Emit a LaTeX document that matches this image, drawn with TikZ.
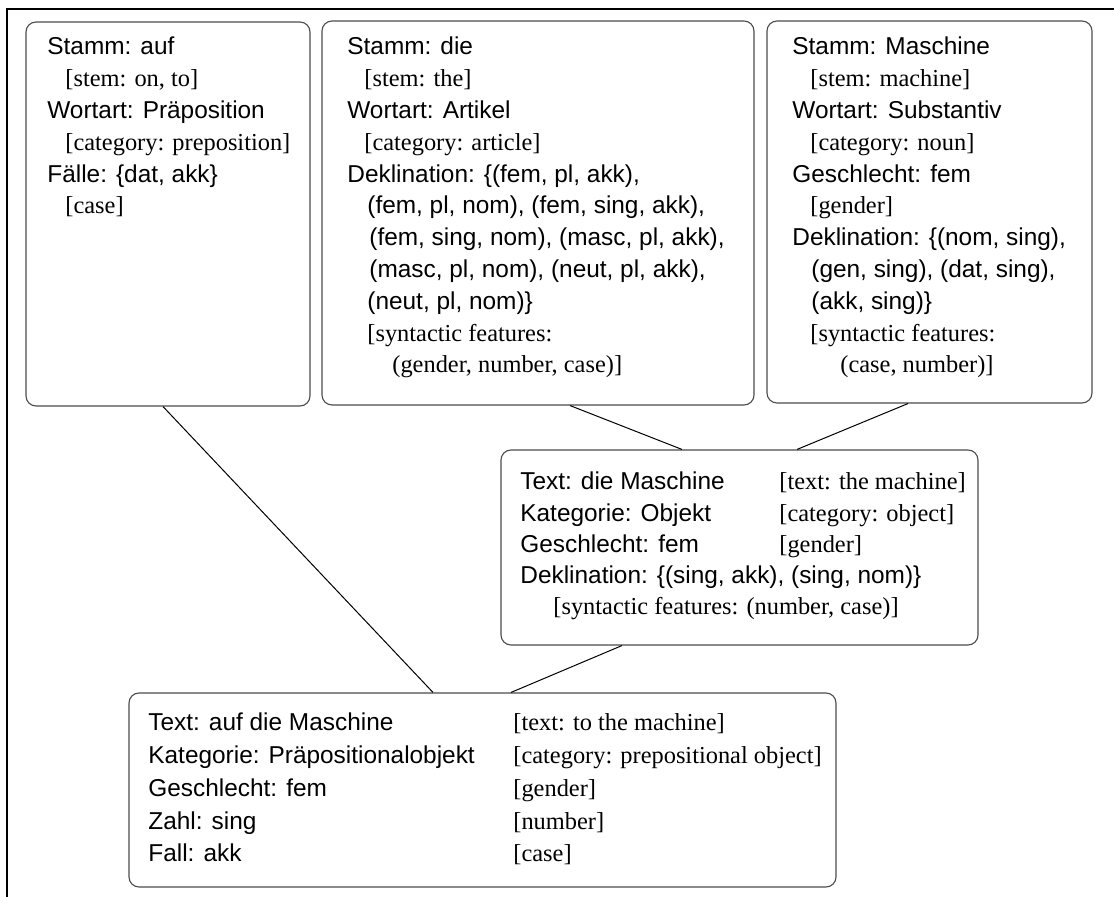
\documentclass[tikz,border=0pt]{standalone}
\usepackage{fontspec}
\setmainfont{Liberation Serif}
\setsansfont{Liberation Sans}
\usetikzlibrary{positioning}

% German entries in sans, English glosses in serif
\newcommand{\deu}[1]{{\sffamily #1}}
\newcommand{\eng}[1]{{\rmfamily #1}}

\begin{document}
\begin{tikzpicture}[x=0.5pt, y=-0.5pt,
  % frames of the feature structures
  box/.style={draw=black!70, line width=0.55pt, rounded corners=5pt, inner sep=0pt},
  % text inside a frame, placed at the baseline of its first line
  entry/.style={anchor=base west, inner sep=0pt, font=\fontsize{12.2}{#1}\selectfont},
  entry/.default=15.9,
  link/.style={draw=black, line width=0.5pt}
]
\useasboundingbox (0,0) rectangle (1114,897);

% page rule at top and left
\draw[line width=1pt] (7,897) -- (7,9) -- (1114,9);

% frames
\node[box, minimum width=142pt,   minimum height=192pt]  (auf)   at (168,214)     {};
\node[box, minimum width=216pt,   minimum height=192pt]  (die)   at (538,213)     {};
\node[box, minimum width=162.5pt, minimum height=191pt]  (masch) at (929.5,212)   {};
\node[box, minimum width=238.5pt, minimum height=97.5pt] (obj)   at (739.5,547.5) {};
\node[box, minimum width=353.5pt, minimum height=97pt]   (pobj)  at (482.5,790)   {};

% contents
\node[entry] (aufT) at (47,55) {\begin{tabular}[t]{@{}l@{}}
  \deu{Stamm: auf}\\
  \hspace*{9pt}\eng{[stem: on, to]}\\
  \deu{Wortart: Präposition}\\
  \hspace*{9pt}\eng{[category: preposition]}\\
  \deu{Fälle: \{dat, akk\}}\\
  \hspace*{9pt}\eng{[case]}
\end{tabular}};

\node[entry] (dieT) at (347,55) {\begin{tabular}[t]{@{}l@{}}
  \deu{Stamm: die}\\
  \hspace*{8.5pt}\eng{[stem: the]}\\
  \deu{Wortart: Artikel}\\
  \hspace*{8.5pt}\eng{[category: article]}\\
  \deu{Deklination: \{(fem, pl, akk),}\\
  \hspace*{10pt}\deu{(fem, pl, nom), (fem, sing, akk),}\\
  \hspace*{11pt}\deu{(fem, sing, nom), (masc, pl, akk),}\\
  \hspace*{11pt}\deu{(masc, pl, nom), (neut, pl, akk),}\\
  \hspace*{10pt}\deu{(neut, pl, nom)\}}\\
  \hspace*{10pt}\eng{[syntactic features:}\\
  \hspace*{22.5pt}\eng{(gender, number, case)]}
\end{tabular}};

\node[entry] (maschT) at (792,55) {\begin{tabular}[t]{@{}l@{}}
  \deu{Stamm: Maschine}\\
  \hspace*{9pt}\eng{[stem: machine]}\\
  \deu{Wortart: Substantiv}\\
  \hspace*{9pt}\eng{[category: noun]}\\
  \deu{Geschlecht: fem}\\
  \hspace*{9pt}\eng{[gender]}\\
  \deu{Deklination: \{(nom, sing),}\\
  \hspace*{9.5pt}\deu{(gen, sing), (dat, sing),}\\
  \hspace*{9.5pt}\deu{(akk, sing)\}}\\
  \hspace*{9pt}\eng{[syntactic features:}\\
  \hspace*{24pt}\eng{(case, number)]}
\end{tabular}};

\node[entry=15.6] (objT) at (520,490) {\begin{tabular}[t]{@{}p{129.5pt}@{}l@{}}
  \deu{Text: die Maschine} & \eng{[text: the machine]}\\
  \deu{Kategorie: Objekt} & \eng{[category: object]}\\
  \deu{Geschlecht: fem} & \eng{[gender]}\\
  \multicolumn{2}{@{}l@{}}{\deu{Deklination: \{(sing, akk), (sing, nom)\}}}\\
  \multicolumn{2}{@{}l@{}}{\hspace*{16.5pt}\eng{[syntactic features: (number, case)]}}
\end{tabular}};

\node[entry=16.35] (pobjT) at (148,731) {\begin{tabular}[t]{@{}p{182.5pt}@{}l@{}}
  \deu{Text: auf die Maschine} & \eng{[text: to the machine]}\\
  \deu{Kategorie: Präpositionalobjekt} & \eng{[category: prepositional object]}\\
  \deu{Geschlecht: fem} & \eng{[gender]}\\
  \deu{Zahl: sing} & \eng{[number]}\\
  \deu{Fall: akk} & \eng{[case]}
\end{tabular}};

% connectors
\draw[link] ([xshift=-2.5pt]auf.south) -- ([xshift=-24.75pt]pobj.north);
\draw[link] ([xshift=16pt]die.south) -- ([xshift=-28.75pt]obj.north);
\draw[link] ([xshift=-10.75pt]masch.south) -- ([xshift=28.75pt]obj.north);
\draw[link] ([xshift=-58.75pt]obj.south) -- ([xshift=14.25pt]pobj.north);

\end{tikzpicture}
\end{document}
